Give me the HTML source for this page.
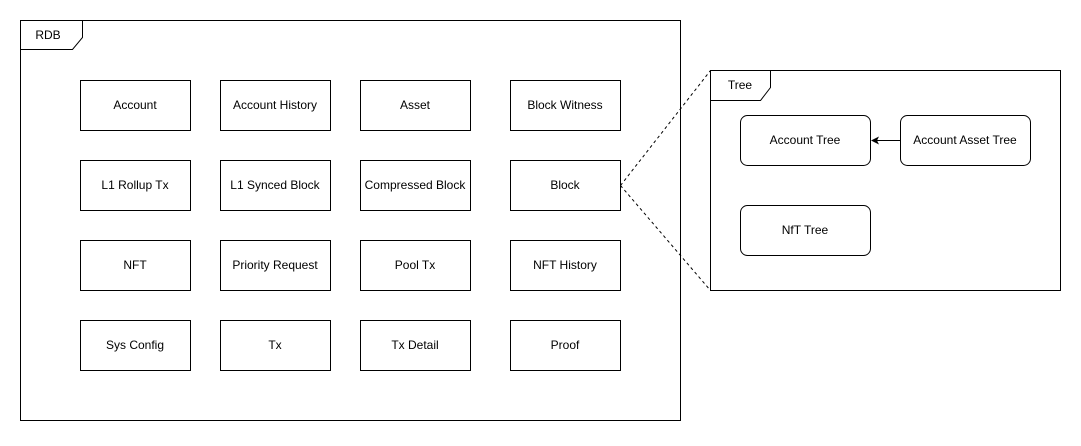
<!DOCTYPE html>
<html><head><style>body{margin:0;background:#fff}</style></head><body>
<svg width="1081" height="441" xmlns="http://www.w3.org/2000/svg" font-family="Liberation Sans, Arial, sans-serif" font-size="12" text-anchor="middle">
<rect x="0" y="0" width="1081" height="441" fill="#fff"/>
<g fill="none" stroke="#000" stroke-width="1">
<rect x="20.5" y="20.5" width="660" height="400"/>
<path d="M20.5 49.5 H72.5 L82.5 37.5 V20.5"/>
<rect x="710.5" y="70.5" width="350" height="220"/>
<path d="M710.5 100.5 H760.5 L770.5 87.5 V70.5"/>
<path d="M620.5 185.5 L710.5 70.5 M620.5 185.5 L710.5 290.5" stroke-dasharray="3 3"/>
<rect x="740.5" y="115.5" width="130" height="50" rx="7"/>
<rect x="900.5" y="115.5" width="130" height="50" rx="7"/>
<rect x="740.5" y="205.5" width="130" height="50" rx="7"/>
<line x1="900" y1="140.5" x2="877" y2="140.5"/>
</g>
<path d="M871 140.5 L879 136.5 L877 140.5 L879 144.5 Z" fill="#000"/>
<g fill="none" stroke="#000">
<rect x="80.5" y="80.5" width="110" height="50"/><rect x="220.5" y="80.5" width="110" height="50"/><rect x="360.5" y="80.5" width="110" height="50"/><rect x="510.5" y="80.5" width="110" height="50"/>
<rect x="80.5" y="160.5" width="110" height="50"/><rect x="220.5" y="160.5" width="110" height="50"/><rect x="360.5" y="160.5" width="110" height="50"/><rect x="510.5" y="160.5" width="110" height="50"/>
<rect x="80.5" y="240.5" width="110" height="50"/><rect x="220.5" y="240.5" width="110" height="50"/><rect x="360.5" y="240.5" width="110" height="50"/><rect x="510.5" y="240.5" width="110" height="50"/>
<rect x="80.5" y="320.5" width="110" height="50"/><rect x="220.5" y="320.5" width="110" height="50"/><rect x="360.5" y="320.5" width="110" height="50"/><rect x="510.5" y="320.5" width="110" height="50"/>
</g>
<g fill="#000">
<text x="48" y="39">RDB</text><text x="740" y="89">Tree</text>
<text x="135" y="109">Account</text><text x="275" y="109">Account History</text><text x="415" y="109">Asset</text><text x="565" y="109">Block Witness</text>
<text x="135" y="189">L1 Rollup Tx</text><text x="275" y="189">L1 Synced Block</text><text x="415" y="189">Compressed Block</text><text x="565" y="189">Block</text>
<text x="135" y="269">NFT</text><text x="275" y="269">Priority Request</text><text x="415" y="269">Pool Tx</text><text x="565" y="269">NFT History</text>
<text x="135" y="349">Sys Config</text><text x="275" y="349">Tx</text><text x="415" y="349">Tx Detail</text><text x="565" y="349">Proof</text>
<text x="805" y="144">Account Tree</text><text x="965" y="144">Account Asset Tree</text><text x="805" y="234">NfT Tree</text>
</g>
</svg>
</body></html>
